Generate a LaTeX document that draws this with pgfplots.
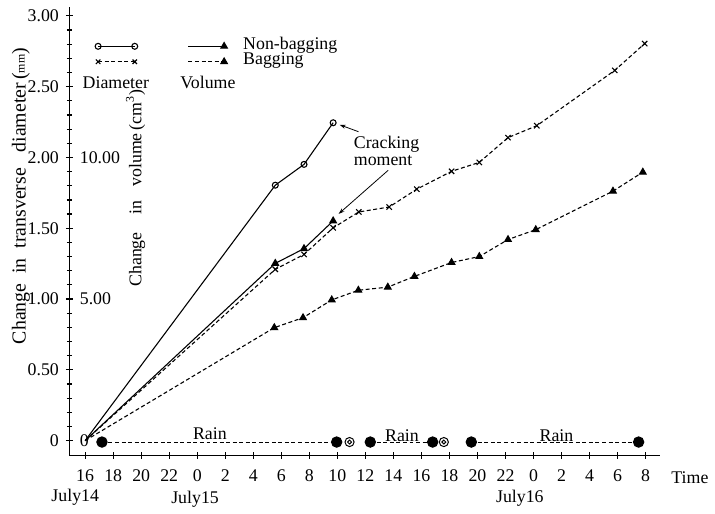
\documentclass[border=0pt]{standalone}
\usepackage{fontspec}
\setmainfont{Liberation Serif}
\usepackage{pgfplots}
\pgfplotsset{compat=1.18}
\usetikzlibrary{arrows.meta}

\pgfdeclareplotmark{dcirc}{%
  \pgfpathcircle{\pgfpointorigin}{2.3pt}\pgfusepathqstroke
  \pgfpathcircle{\pgfpointorigin}{1.0pt}\pgfusepathqstroke}

\begin{document}
\begin{tikzpicture}[font=\fontsize{9}{11}\selectfont]
\begin{scope}[x=0.5pt,y=-0.5pt,shift={(-35pt,230pt)}]
  \useasboundingbox (0,0) rectangle (715,506);
\end{scope}
\pgfplotsset{
  common/.style={
    at={(0,0)}, anchor=south west, scale only axis,
    width=298.5pt, height=226.5pt,
    xmin=14.87, xmax=57.06, clip=false,
    /pgf/number format/assume math mode=true,
    every axis plot/.append style={line width=0.55pt},
    legend cell align=left,
  },
  dsh/.style={dash pattern=on 2pt off 1.3pt},
}
% ---------------- diameter axis ----------------
\begin{axis}[common,
  ymin=-0.105, ymax=3.063,
  axis x line*=bottom, axis y line*=left,
  axis line style={line width=0.7pt},
  tick align=center,
  major tick length=3.5pt, minor tick length=2.5pt,
  tick style={line width=0.6pt, black},
  xtick={16,18,...,56},
  xticklabels={16,18,20,22,0,2,4,6,8,10,12,14,16,18,20,22,0,2,4,6,8},
  ytick={0,0.5,1,1.5,2,2.5,3},
  yticklabels={0,0.50,1.00,1.50,2.00,2.50,3.00},
  minor y tick num=4,
  xticklabel style={yshift=-2pt},
  legend style={at={(rel axis cs:0.043,0.895)}, anchor=west, draw=none, fill=none,
    inner sep=0pt, row sep=0pt,
    nodes={inner sep=0pt, text height=5.5pt, text depth=2.3pt}},
  legend image code/.code={\draw[#1] plot coordinates {(0pt,0pt) (18.5pt,0pt)};},
]
% Diameter, non-bagging
\addplot[black, solid, mark=o, mark size=1.5pt, mark indices={2,3,4}, forget plot]
  coordinates {(16,0) (29.57,1.804) (31.62,1.951) (33.7,2.245)};
% Diameter, bagging
\addplot[black, dsh, mark=x, mark size=1.9pt, mark options={solid}, mark indices={2,...,13}, forget plot]
  coordinates {(16,0) (29.57,1.21) (31.62,1.315) (33.7,1.503) (35.53,1.615)
   (37.7,1.65) (39.67,1.776) (42.15,1.902) (44.13,1.965) (46.18,2.14)
   (48.23,2.224) (53.8,2.615) (55.93,2.804)};
% Rain periods
\addplot[black, dsh, line width=0.5pt, forget plot] coordinates {(17.2,-0.01) (33.95,-0.01)};
\addplot[black, dsh, line width=0.5pt, forget plot] coordinates {(36.35,-0.01) (40.8,-0.01)};
\addplot[black, dsh, line width=0.5pt, forget plot] coordinates {(43.56,-0.01) (55.5,-0.01)};
\addplot[black, only marks, mark=*, mark size=2.6pt, forget plot]
  coordinates {(17.2,-0.01) (33.95,-0.01) (36.35,-0.01) (40.8,-0.01) (43.56,-0.01) (55.5,-0.01)};
\addplot[black, only marks, mark=dcirc, line width=0.5pt, forget plot]
  coordinates {(34.87,-0.01) (41.6,-0.01)};
\addlegendimage{black, solid, mark=o, mark size=1.5pt, line width=0.55pt}
\addlegendentry{\mbox{}}
\addlegendimage{black, dsh, mark=x, mark size=1.6pt, mark options={solid}, line width=0.55pt}
\addlegendentry{\mbox{}}
\end{axis}
% ---------------- volume axis ----------------
\begin{axis}[common,
  ymin=-0.525, ymax=15.315,
  hide x axis,
  axis y line*=left,
  y axis line style={draw=none},
  major tick length=0pt,
  ytick={0,5,10},
  yticklabels={0,5.00,10.00},
  yticklabel style={anchor=west, xshift=1.8pt},
  legend style={at={(rel axis cs:0.2,0.895)}, anchor=west, draw=none, fill=none,
    inner sep=0pt, row sep=0pt, column sep=8pt,
    nodes={inner sep=0pt, text height=5.5pt, text depth=2.3pt}},
  legend image code/.code={\draw[#1] plot coordinates {(0pt,0pt) (18pt,0pt)};},
]
% Volume, non-bagging
\addplot[black, solid, mark=triangle*, mark size=1.9pt, mark indices={2,3,4}]
  coordinates {(16,0) (29.57,6.26) (31.62,6.78) (33.7,7.76)};
\addlegendentry{Non-bagging}
% Volume, bagging
\addplot[black, dsh, mark=triangle*, mark size=1.9pt, mark options={solid}, mark indices={2,...,13}]
  coordinates {(16,0) (29.5,3.99) (31.55,4.34) (33.6,4.97) (35.5,5.31)
   (37.6,5.42) (39.5,5.80) (42.15,6.29) (44.13,6.50) (46.18,7.10)
   (48.16,7.45) (53.67,8.81) (55.8,9.48)};
\addlegendentry{Bagging}
\end{axis}
% ---------------- annotations (pixel grid) ----------------
\begin{scope}[x=0.5pt,y=-0.5pt,shift={(-35pt,230pt)}]
  \node at (117,83) {Diameter};
  \node at (210,83) {Volume};
  \node[anchor=north west, align=left, inner sep=0pt] at (357,137)
    {Cracking\\[-2.5pt]moment};
  \draw[line width=0.4pt, -{Stealth[length=3pt,width=2pt]}] (362,133) -- (343,126);
  \draw[line width=0.4pt, -{Stealth[length=3pt,width=2pt]}] (392,172) -- (342,216);
  \node at (212,438) {Rain};
  \node at (406,440) {Rain};
  \node at (562,440) {Rain};
  \node at (76,502) {July14};
  \node at (197,504) {July15};
  \node at (525,503) {July16};
  \node[anchor=west] at (671,482) {Time};
  \node[rotate=90, font=\fontsize{10}{12}\selectfont] at (21,198)
    {Change\hspace{5pt}in\hspace{5pt}transverse\hspace{8pt}diameter\,(\raisebox{0.5pt}{\fontsize{6}{7}\selectfont mm})};
  \node[rotate=90] at (137,190)
    {Change\hspace{9pt}in\hspace{7pt}volume\,(cm\textsuperscript{3})};
\end{scope}
\end{tikzpicture}
\end{document}
